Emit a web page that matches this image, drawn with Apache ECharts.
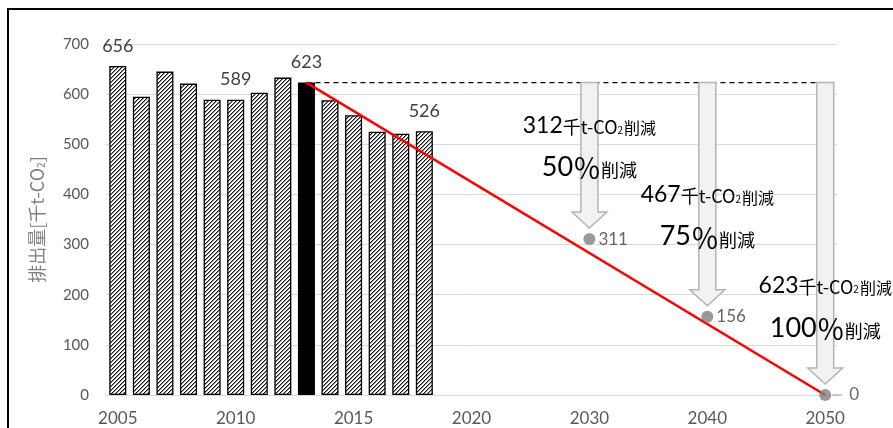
<!DOCTYPE html>
<html><head><meta charset="utf-8">
<script src="https://cdn.jsdelivr.net/npm/echarts@6/dist/echarts.min.js"></script>
<style>html,body{margin:0;padding:0;background:#fff;}#c{width:893px;height:428px;}</style>
</head><body><div id="c"></div>
<script>
// ---------- data ----------
const categories = ['2005','2006','2007','2008','2009','2010','2011','2012','2013','2014','2015','2016','2017','2018','2019','2020',
  '','','','','2030','','','','','2040','','','','','2050'];
const tickLabels = ['2005','2010','2015','2020','2030','2040','2050'];
const actualYears = ['2005','2006','2007','2008','2009','2010','2011','2012','2013','2014','2015','2016','2017','2018'];
const actualEmissions = [656,595,645,621,589,589,603,633,623,588,558,525,521,526];
const baseYear = '2013';
const baseValue = 623;
const targetYears = ['2030','2040','2050'];
const targetValues = [311,156,0];
const reductionAmounts = [312,467,623];
const reductionPercents = [50,75,100];
const labeledYears = ['2005','2010','2013','2018'];
const yTicks = [0,100,200,300,400,500,600,700];

// ---------- layout / style ----------
const annotY = [[538,455],[399,316],[219,134]];
const numFont = 'Lato, "Liberation Sans", sans-serif';
const jpFont = '"Noto Sans CJK JP", sans-serif';

function makeHatch(){
  const c = document.createElement('canvas'); c.width = 4; c.height = 4;
  const ctx = c.getContext('2d'); const img = ctx.createImageData(4,4);
  for (let y=0;y<4;y++) for (let x=0;x<4;x++){
    const k = (x+y)%4; const v = k===0 ? 20 : (k===1 ? 140 : 255);
    const i = (y*4+x)*4; img.data[i]=v; img.data[i+1]=v; img.data[i+2]=v; img.data[i+3]=255;
  }
  ctx.putImageData(img,0,0); return c;
}
const hatch = {image: makeHatch(), repeat: 'repeat'};

const idx = y => categories.indexOf(y);
const baseIdx = idx(baseYear);
const lastIdx = idx(targetYears[targetYears.length-1]);

const barData = actualYears.map((y,i) => {
  const item = {value: actualEmissions[i]};
  if (y === baseYear) item.itemStyle = {color: '#000'};
  if (labeledYears.includes(y)) item.label = {show: true};
  return item;
});

const redLine = categories.map((c,i) => i===baseIdx ? baseValue : (i===lastIdx ? targetValues[targetValues.length-1] : null));
const dashLine = categories.map((c,i) => (i===baseIdx || i===lastIdx) ? baseValue : null);

const targetData = targetYears.map((y,i) => {
  const d = {value: [idx(y), targetValues[i]]};
  if (targetValues[i] === 0) d.label = {formatter: '{l|}{g|}' + targetValues[i], distance: 1};
  return d;
});

const arrowData = targetYears.map((y,i) => [idx(y), baseValue, targetValues[i], i]);

const richAnn = {
  n: {fontFamily: numFont, fontSize: 23, color: '#262626', verticalAlign: 'bottom'},
  u: {fontFamily: jpFont, fontSize: 18, color: '#404040', verticalAlign: 'bottom', padding:[0,0,1,0]},
  s: {fontFamily: jpFont, fontSize: 10, color: '#404040', verticalAlign: 'bottom', padding:[0,1,2,0]},
  j: {fontFamily: jpFont, fontSize: 16, color: '#404040', verticalAlign: 'bottom', padding:[0,0,1,0]},
  p: {fontFamily: numFont, fontSize: 27, color: '#262626', verticalAlign: 'bottom'},
  pc: {fontFamily: jpFont, fontSize: 28, color: '#404040', verticalAlign: 'bottom', padding:[0,0,-2,0]},
  j2: {fontFamily: jpFont, fontSize: 18, color: '#404040', verticalAlign: 'bottom', padding:[0,0,1,0]}
};

function renderArrow(params, api){
  const x = api.value(0), top = api.value(1), target = api.value(2), k = api.value(3);
  const p0 = api.coord([x, top]);
  const pt = api.coord([x, target]);
  const cx = p0[0], y0 = p0[1], tip = pt[1] - 11, headH = 16, sw = 8.5, hw = 17.5;
  const pts = [[cx-sw,y0],[cx+sw,y0],[cx+sw,tip-headH],[cx+hw,tip-headH],[cx,tip],[cx-hw,tip-headH],[cx-sw,tip-headH]];
  const t1 = api.coord([x, annotY[k][0]])[1];
  const t2 = api.coord([x, annotY[k][1]])[1];
  const txt = (text, y) => ({type:'text', x: cx, y: y, z2: 10,
    style: {text: text, rich: richAnn, align:'center', verticalAlign:'middle', textAlign:'center', textVerticalAlign:'middle'}});
  return {type:'group', children:[
    {type:'polygon', shape:{points: pts}, style:{fill:'#f2f2f2', stroke:'#b4b4b4', lineWidth:1.5}},
    txt('{n|' + reductionAmounts[k] + '}{u|千t-CO}{s|2}{j|削減}', t1),
    txt('{p|' + reductionPercents[k] + '}{pc|％}{j2|削減}', t2)
  ]};
}

const chart = echarts.init(document.getElementById('c'), null, {renderer:'canvas'});
chart.setOption({
  backgroundColor: '#fff',
  animation: false,
  grid: {left: 106, top: 44, width: 731, height: 351},
  xAxis: {
    type: 'category', data: categories, boundaryGap: true,
    axisLine: {lineStyle: {color: '#d9d9d9', width: 1}},
    axisTick: {show: false},
    axisLabel: {interval: 0, margin: 15, color: '#595959', fontSize: 17, fontFamily: numFont,
      formatter: v => tickLabels.includes(v) ? v : ''}
  },
  yAxis: {
    type: 'value', min: yTicks[0], max: yTicks[yTicks.length-1], interval: 100,
    name: '排出量[千t-CO{s|2}]', nameLocation: 'middle', nameGap: 60, nameRotate: 90,
    nameTextStyle: {color: '#7f7f7f', fontSize: 18, fontFamily: jpFont,
      rich: {s: {fontSize: 10, color: '#7f7f7f', fontFamily: jpFont, verticalAlign: 'bottom'}}},
    axisLine: {show: false}, axisTick: {show: false},
    splitLine: {lineStyle: {color: '#d9d9d9', width: 1}},
    axisLabel: {margin: 17, color: '#595959', fontSize: 15, fontFamily: numFont}
  },
  graphic: [{type:'rect', silent:true, z:100, shape:{x:8, y:9, width:900, height:500},
    style:{fill:'none', stroke:'#000', lineWidth:2}}],
  series: [
    {type:'bar', data: barData, barWidth: 17, z: 2,
      itemStyle: {color: hatch, borderColor: '#000', borderWidth: 1.3},
      label: {show: false, position: 'top', distance: 11, color: '#404040', fontSize: 18, fontFamily: numFont}},
    {type:'line', data: dashLine, connectNulls: true, symbol: 'none', z: 3,
      lineStyle: {color: '#000', width: 1.3, type: [5,4]}},
    {type:'line', data: redLine, connectNulls: true, symbol: 'none', z: 4,
      lineStyle: {color: '#ff0000', width: 2.5}},
    {type:'scatter', data: targetData, symbol: 'circle', symbolSize: 12, z: 5,
      itemStyle: {color: '#808080'},
      label: {show: true, position: 'right', distance: 3, color: '#404040', fontSize: 17, fontFamily: numFont,
        rich: {l: {width: 10, height: 1, backgroundColor: '#808080'}, g: {width: 7}}}},
    {type:'custom', data: arrowData, renderItem: renderArrow, z: 6, clip: false,
      encode: {x: 0, y: 1}}
  ]
});
</script></body></html>
